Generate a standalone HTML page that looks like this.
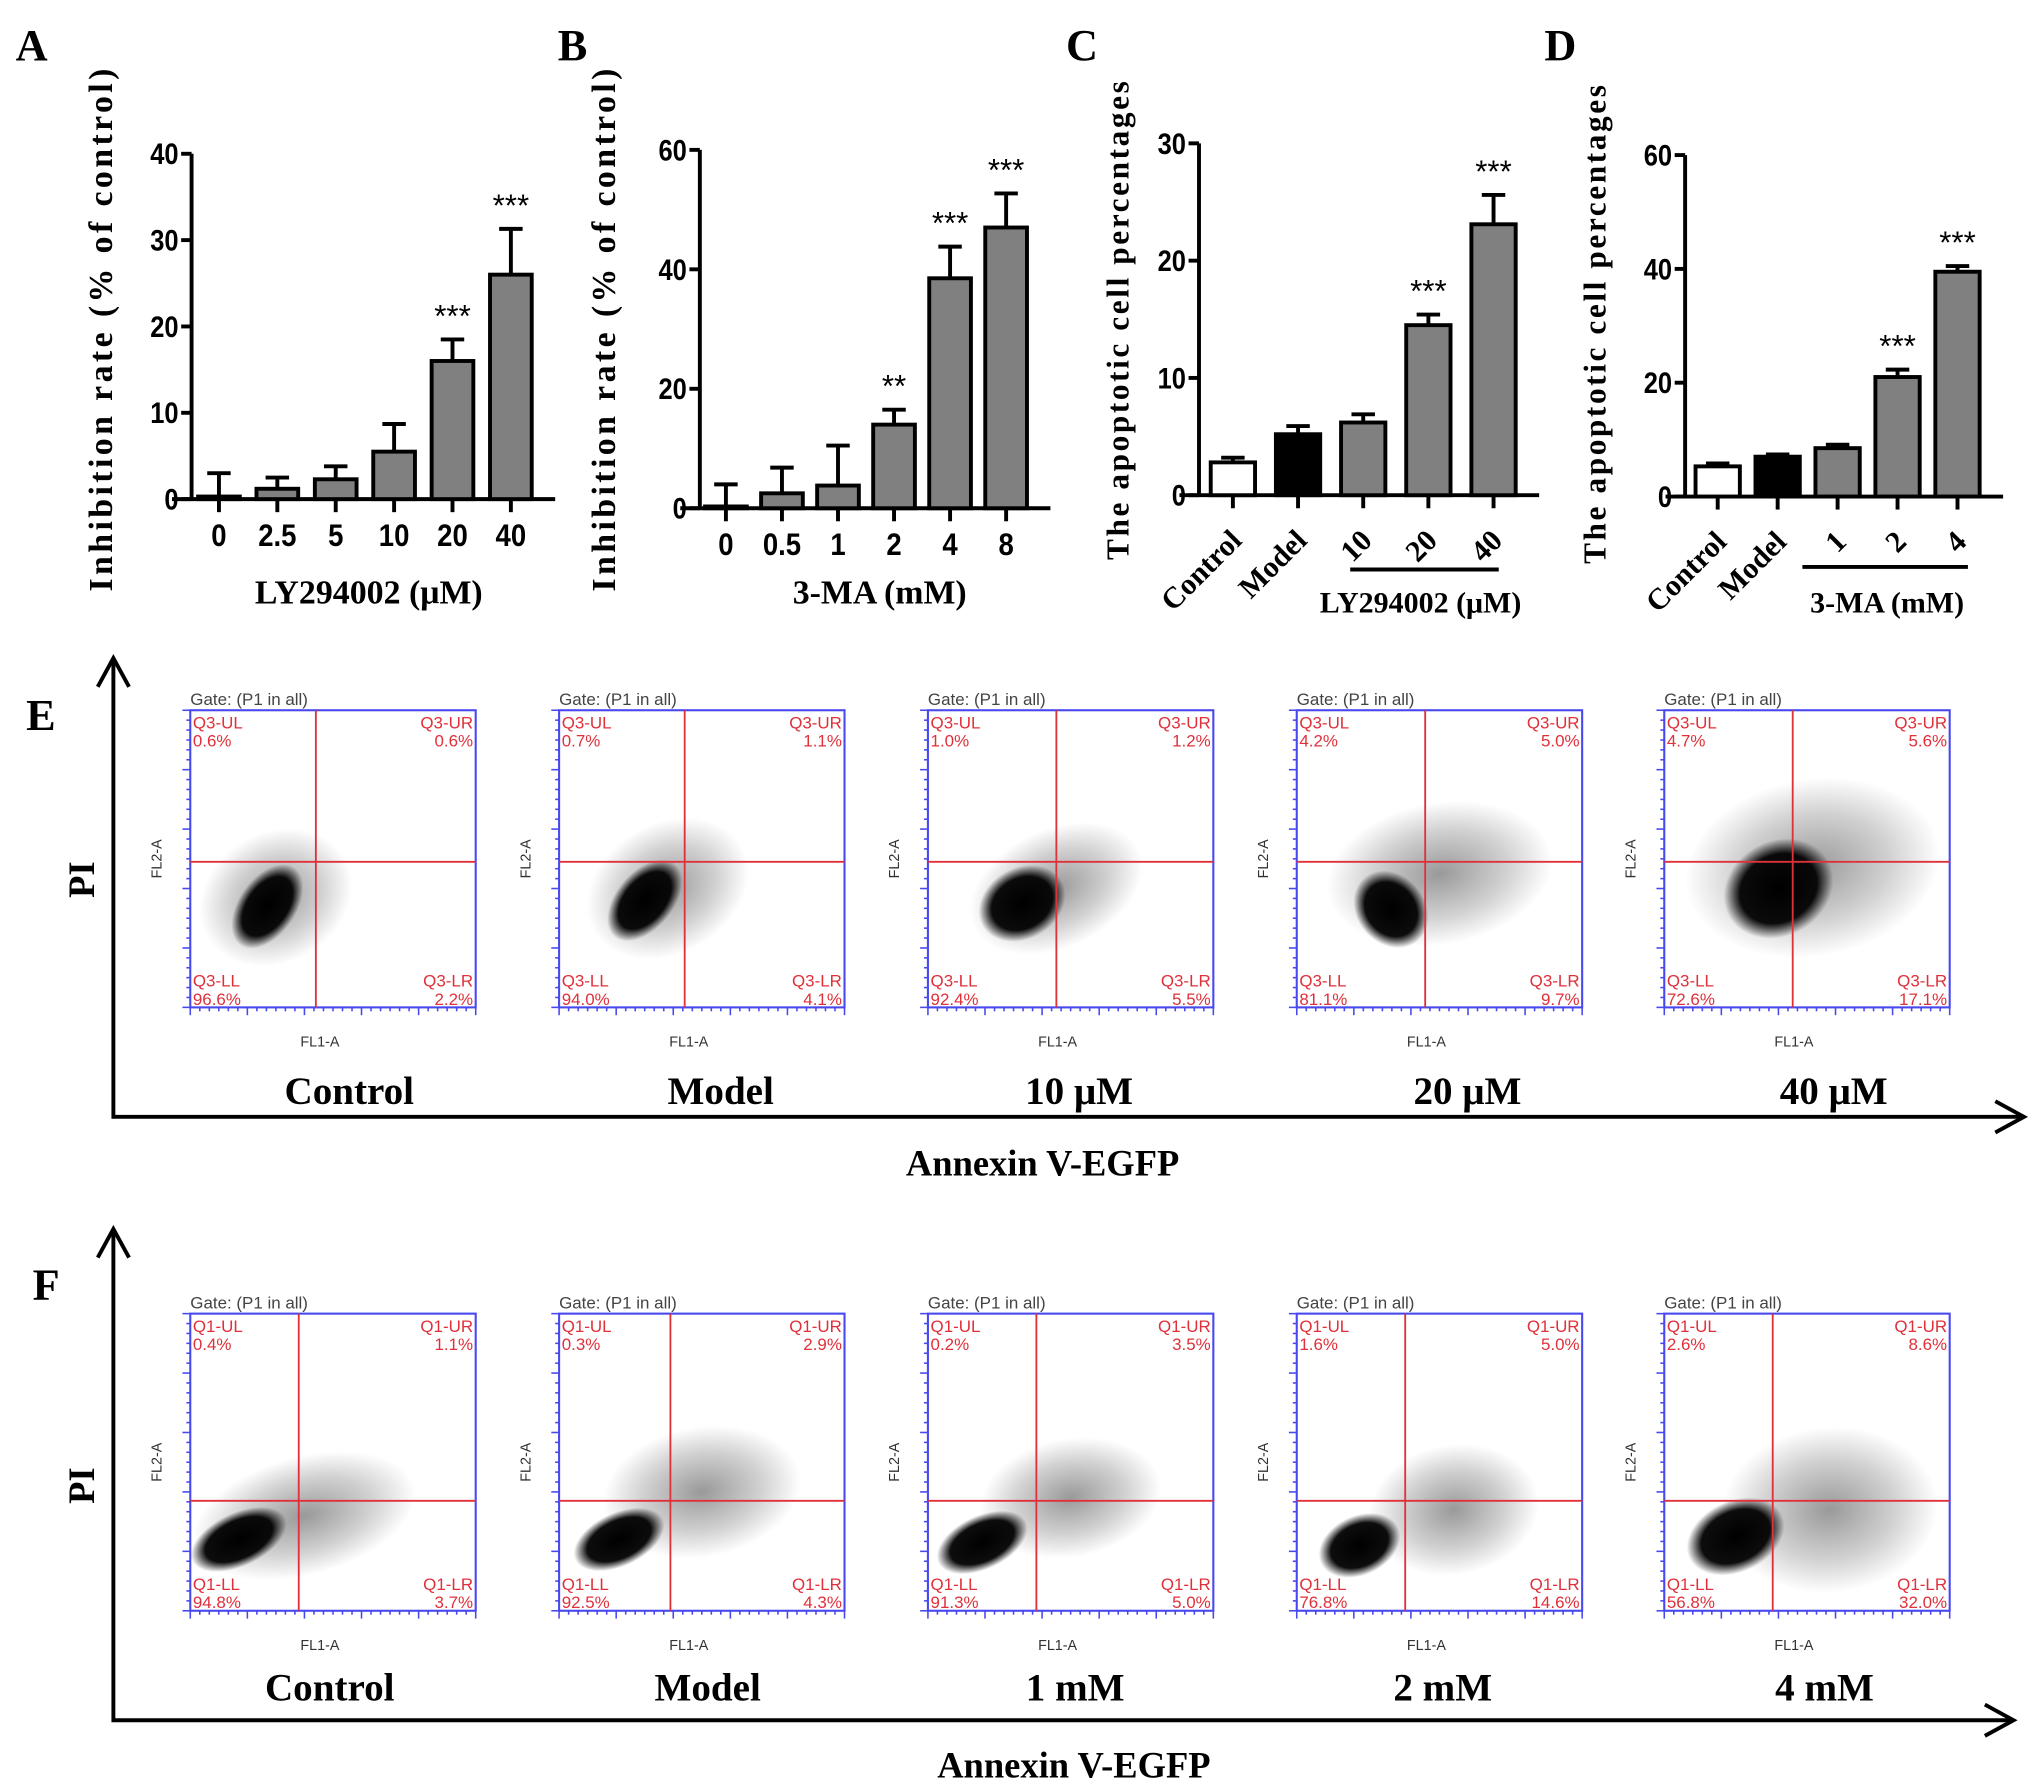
<!DOCTYPE html>
<html><head><meta charset="utf-8"><style>
html,body{margin:0;padding:0;background:#fff;}
svg{display:block;}
</style></head><body>
<svg id="fig" width="2037" height="1788" viewBox="0 0 1563 1372" preserveAspectRatio="none" xmlns="http://www.w3.org/2000/svg">
<defs>
<radialGradient id="blob"><stop offset="0" stop-color="#000" stop-opacity="1"/><stop offset="0.7" stop-color="#000" stop-opacity="0.95"/><stop offset="1" stop-color="#000" stop-opacity="0"/></radialGradient>
<radialGradient id="cloud"><stop offset="0" stop-color="#000" stop-opacity="0.4"/><stop offset="0.6" stop-color="#000" stop-opacity="0.18"/><stop offset="1" stop-color="#000" stop-opacity="0"/></radialGradient>
</defs>
</svg>
<script>
// ---- Panel A data ----
const catsA = ["0","2.5","5","10","20","40"];
const valsA = [0.3,1.2,2.3,5.5,16,26];
const errA  = [3,2.5,3.8,8.7,18.5,31.3];
const starsA = ["","","","","***","***"];
const ticksA = [0,10,20,30,40];
// ---- Panel B data ----
const catsB = ["0","0.5","1","2","4","8"];
const valsB = [0.3,2.5,3.8,14,38.5,47];
const errB  = [4,6.8,10.5,16.5,43.8,52.7];
const starsB = ["","","","**","***","***"];
const ticksB = [0,20,40,60];
// ---- Panel C data ----
const catsC = ["Control","Model","10","20","40"];
const valsC = [2.8,5.2,6.2,14.5,23.1];
const errC  = [3.2,5.9,6.9,15.4,25.6];
const starsC = ["","","","***","***"];
const ticksC = [0,10,20,30];
// ---- Panel D data ----
const catsD = ["Control","Model","1","2","4"];
const valsD = [5.3,7,8.5,21,39.5];
const errD  = [5.8,7.4,9.1,22.3,40.5];
const starsD = ["","","","***","***"];
const ticksD = [0,20,40,60];
// ---- Flow data ----
const flowE = [[0.6,0.6,96.6,2.2],[0.7,1.1,94.0,4.1],[1.0,1.2,92.4,5.5],[4.2,5.0,81.1,9.7],[4.7,5.6,72.6,17.1]];
const flowF = [[0.4,1.1,94.8,3.7],[0.3,2.9,92.5,4.3],[0.2,3.5,91.3,5.0],[1.6,5.0,76.8,14.6],[2.6,8.6,56.8,32.0]];
const labelsE = ["Control","Model","10 μM","20 μM","40 μM"];
const labelsF = ["Control","Model","1 mM","2 mM","4 mM"];

const NS="http://www.w3.org/2000/svg";
const svg=document.getElementById('fig');
function el(tag,attrs,parent,text){const e=document.createElementNS(NS,tag);for(const k in attrs)e.setAttribute(k,attrs[k]);if(text!==undefined)e.textContent=text;(parent||svg).appendChild(e);return e;}

function barChart(o){
  const g=el('g',{});
  
  
  const max=o.ticks[o.ticks.length-1];
  const y=v=>o.y0-(v/max)*(o.y0-o.ytop);
  const x=i=>o.x0+i*o.step;
  const ya=el('line',{x1:o.ax,y1:o.ytop,x2:o.ax,y2:o.y0,stroke:'#000','stroke-width':3},g);
  
  o.ticks.forEach(t=>{
    el('line',{x1:o.ax-8,y1:y(t),x2:o.ax,y2:y(t),stroke:'#000','stroke-width':3},g);
    const tl=el('text',{x:o.ax-10,y:y(t)+8,'text-anchor':'end','font-family':'Liberation Sans, sans-serif','font-weight':'bold','font-size':23,transform:`translate(${o.ax-10},0) scale(0.85,1) translate(${-(o.ax-10)},0)`},g,t);
    
  });
  const xa=el('line',{x1:o.ax-15,y1:o.y0,x2:x(o.vals.length-1)+o.bw/2+18,y2:o.y0,stroke:'#000','stroke-width':3},g);
  
  o.vals.forEach((v,i)=>{
    const cx=x(i);
    el('line',{x1:cx,y1:o.y0,x2:cx,y2:o.y0+10,stroke:'#000','stroke-width':3},g);
    el('line',{x1:cx,y1:y(v),x2:cx,y2:y(o.err[i]),stroke:'#000','stroke-width':3},g);
    el('line',{x1:cx-9,y1:y(o.err[i]),x2:cx+9,y2:y(o.err[i]),stroke:'#000','stroke-width':3},g);
    const fill=o.fills?o.fills[i]:'#808080';
    const b=el('rect',{x:cx-o.bw/2,y:y(v),width:o.bw,height:o.y0-y(v),fill:fill,stroke:'#000','stroke-width':3},g);
    
    if(o.stars[i]){const s=el('text',{x:cx,y:y(o.err[i])-10,'text-anchor':'middle','font-family':'Liberation Sans, sans-serif','font-size':24},g,o.stars[i]);
      }
    let lab;
    if(o.rot){
      const lx=cx+8, ly=o.y0+36;
      lab=el('text',{x:lx,y:ly,'text-anchor':'end','font-family':'Liberation Serif, serif','font-weight':'bold','font-size':23,transform:`rotate(-45 ${lx} ${ly})`},g,o.cats[i]);
    } else {
      lab=el('text',{x:cx,y:o.y0+36,'text-anchor':'middle','font-family':'Liberation Sans, sans-serif','font-weight':'bold','font-size':24,transform:`translate(${cx},0) scale(0.88,1) translate(${-cx},0)`},g,o.cats[i]);
    }
    
  });
  if(o.under){el('line',{x1:o.under[0],y1:o.under[2],x2:o.under[1],y2:o.under[2],stroke:'#000','stroke-width':3},g);}
  const xt=el('text',{x:o.xtx,y:o.xty,'text-anchor':'middle','font-family':'Liberation Serif, serif','font-weight':'bold','font-size':o.xfs||26},g,o.xtitle);
  
  const yt=el('text',{x:o.ytx,y:o.yty,'text-anchor':'middle','font-family':'Liberation Serif, serif','font-weight':'bold','font-size':o.yfs||26,'letter-spacing':o.ls||2,'xml:space':'preserve',transform:`rotate(-90 ${o.ytx} ${o.yty})`},g,o.ytitle);
  
  const L=el('text',{x:o.lx,y:46,'font-family':'Liberation Serif, serif','font-weight':'bold','font-size':34},g,o.letter);
  
}

barChart({name:'panel-a-chart',letter:'A',lx:12,ax:147,y0:383,ytop:118,ticks:ticksA,x0:168,step:44.8,bw:32,cats:catsA,vals:valsA,err:errA,stars:starsA,xtitle:'LY294002 (μM)',xtx:283,xty:463,ytitle:'Inhibition  rate (% of control)',ytx:86,yty:252,ls:2.6});
barChart({name:'panel-b-chart',letter:'B',lx:428,ax:537,y0:390,ytop:115,ticks:ticksB,x0:557,step:43,bw:32,cats:catsB,vals:valsB,err:errB,stars:starsB,xtitle:'3-MA (mM)',xtx:675,xty:463,ytitle:'Inhibition rate  (% of control)',ytx:472,yty:252,ls:2.6});
barChart({name:'panel-c-chart',letter:'C',lx:818,ax:920,y0:380,ytop:110,ticks:ticksC,x0:946,step:50,bw:34,cats:catsC,vals:valsC,err:errC,stars:starsC,fills:['#fff','#000','#808080','#808080','#808080'],rot:true,under:[1036,1150,437],xtitle:'LY294002 (μM)',xtx:1090,xty:470,xfs:23,ytitle:'The apoptotic cell percentages',ytx:866,yty:245,yfs:24,ls:2});
barChart({name:'panel-d-chart',letter:'D',lx:1185,ax:1293,y0:381,ytop:119,ticks:ticksD,x0:1318,step:46,bw:34,cats:catsD,vals:valsD,err:errD,stars:starsD,fills:['#fff','#000','#808080','#808080','#808080'],rot:true,under:[1383,1510,435],xtitle:'3-MA (mM)',xtx:1448,xty:470,xfs:23,ytitle:'The apoptotic cell percentages',ytx:1232,yty:248,yfs:24,ls:2});

// ---- Flow panels ----
const plotX=[146,429,712,995,1277];
function arrowAxes(top,bottom,right,name){
  const g=el('g',{});
  el('polyline',{points:`87,${top} 87,${bottom} ${right},${bottom}`,fill:'none',stroke:'#000','stroke-width':3},g);
  el('polyline',{points:`75,${top+22} 87,${top} 99,${top+22}`,fill:'none',stroke:'#000','stroke-width':3},g);
  el('polyline',{points:`${right-22},${bottom-12} ${right},${bottom} ${right-22},${bottom+12}`,fill:'none',stroke:'#000','stroke-width':3},g);
}
function flowRow(o){
  arrowAxes(o.axTop,o.axBot,o.axRight,o.name+'-axes');
  const L=el('text',{x:o.lx,y:o.ly,'font-family':'Liberation Serif, serif','font-weight':'bold','font-size':34},svg,o.letter);
  
  const pi=el('text',{x:72,y:o.piy,'text-anchor':'middle','font-family':'Liberation Serif, serif','font-weight':'bold','font-size':28,transform:`rotate(-90 72 ${o.piy})`},svg,'PI');
  
  const an=el('text',{x:o.anx,y:o.any,'text-anchor':'middle','font-family':'Liberation Serif, serif','font-weight':'bold','font-size':28},svg,'Annexin V-EGFP');
  
  o.data.forEach((q,i)=>{
    const x0=plotX[i],y0=o.top,w=219,h=228;
    const g=el('g',{});
    o.clouds[i].forEach(c=>{el('ellipse',{cx:x0+c[0]*w,cy:y0+c[1]*h,rx:c[2]*w,ry:c[3]*h,fill:c[5]?'url(#cloud)':'url(#blob)',transform:`rotate(${c[4]} ${x0+c[0]*w} ${y0+c[1]*h})`},g);});
    el('rect',{x:x0,y:y0,width:w,height:h,fill:'none',stroke:'#4848f0','stroke-width':1.6},g);
    for(let k=0;k<=30;k++){const ty=y0+h*k/30;el('line',{x1:x0-(k%6==0?6:3),y1:ty,x2:x0,y2:ty,stroke:'#4848f0','stroke-width':1.2},g);}
    for(let k=0;k<=30;k++){const tx=x0+w*k/30;el('line',{x1:tx,y1:y0+h,x2:tx,y2:y0+h+(k%6==0?6:3),stroke:'#4848f0','stroke-width':1.2},g);}
    const vx=x0+o.qx[i]*w, hy=y0+o.qy*h;
    el('line',{x1:vx,y1:y0,x2:vx,y2:y0+h,stroke:'#e0303a','stroke-width':1.4},g);
    el('line',{x1:x0,y1:hy,x2:x0+w,y2:hy,stroke:'#e0303a','stroke-width':1.4},g);
    const f={'font-family':'Liberation Sans, sans-serif','font-size':13,fill:'#e0303a'};
    const p=o.prefix;
    el('text',Object.assign({x:x0+2,y:y0+14},f),g,p+'-UL');
    el('text',Object.assign({x:x0+2,y:y0+28},f),g,q[0].toFixed(1)+'%');
    el('text',Object.assign({x:x0+w-2,y:y0+14,'text-anchor':'end'},f),g,p+'-UR');
    el('text',Object.assign({x:x0+w-2,y:y0+28,'text-anchor':'end'},f),g,q[1].toFixed(1)+'%');
    el('text',Object.assign({x:x0+2,y:y0+h-16},f),g,p+'-LL');
    el('text',Object.assign({x:x0+2,y:y0+h-2},f),g,q[2].toFixed(1)+'%');
    el('text',Object.assign({x:x0+w-2,y:y0+h-16,'text-anchor':'end'},f),g,p+'-LR');
    el('text',Object.assign({x:x0+w-2,y:y0+h-2,'text-anchor':'end'},f),g,q[3].toFixed(1)+'%');
    el('text',{x:x0,y:y0-4,'font-family':'Liberation Sans, sans-serif','font-size':13,fill:'#444'},g,'Gate: (P1 in all)');
    el('text',{x:x0+w/2-10,y:y0+h+30,'font-family':'Liberation Sans, sans-serif','font-size':11,fill:'#333','text-anchor':'middle'},g,'FL1-A');
    el('text',{x:x0-22,y:y0+h/2,'font-family':'Liberation Sans, sans-serif','font-size':11,fill:'#333','text-anchor':'middle',transform:`rotate(-90 ${x0-22} ${y0+h/2})`},g,'FL2-A');
    const lab=el('text',{x:o.labx[i],y:o.laby,'text-anchor':'middle','font-family':'Liberation Serif, serif','font-weight':'bold','font-size':30},svg,o.labels[i]);
    
  });
}
flowRow({name:'panel-e',letter:'E',lx:20,ly:560,prefix:'Q3',top:545,axTop:505,axBot:857,axRight:1553,piy:675,anx:800,any:902,
  data:flowE,labels:labelsE,labx:[268,553,828,1126,1407],laby:847,qx:[0.44,0.44,0.45,0.45,0.45],qy:0.51,
  clouds:[
    [[0.3,0.63,0.28,0.22,-30,1],[0.27,0.66,0.1,0.16,35,0]],
    [[0.38,0.6,0.3,0.22,-30,1],[0.3,0.64,0.1,0.16,40,0]],
    [[0.45,0.6,0.32,0.2,-25,1],[0.33,0.65,0.16,0.12,-30,0]],
    [[0.5,0.55,0.4,0.24,-10,1],[0.33,0.67,0.12,0.14,-40,0]],
    [[0.52,0.53,0.45,0.3,-10,1],[0.4,0.6,0.2,0.16,-30,0]]]});
flowRow({name:'panel-f',letter:'F',lx:25,ly:997,prefix:'Q1',top:1008,axTop:943,axBot:1320,axRight:1545,piy:1140,anx:824,any:1364,
  data:flowF,labels:labelsF,labx:[253,543,825,1107,1400],laby:1305,qx:[0.38,0.39,0.38,0.38,0.38],qy:0.63,
  clouds:[
    [[0.4,0.68,0.4,0.2,-15,1],[0.17,0.76,0.18,0.09,-25,0]],
    [[0.5,0.6,0.35,0.22,-10,1],[0.21,0.76,0.17,0.09,-25,0]],
    [[0.5,0.62,0.32,0.2,-10,1],[0.19,0.77,0.17,0.09,-25,0]],
    [[0.55,0.66,0.3,0.22,-10,1],[0.22,0.78,0.15,0.1,-25,0]],
    [[0.58,0.66,0.38,0.28,-5,1],[0.25,0.75,0.18,0.12,-25,0]]]});
</script>
</body></html>
